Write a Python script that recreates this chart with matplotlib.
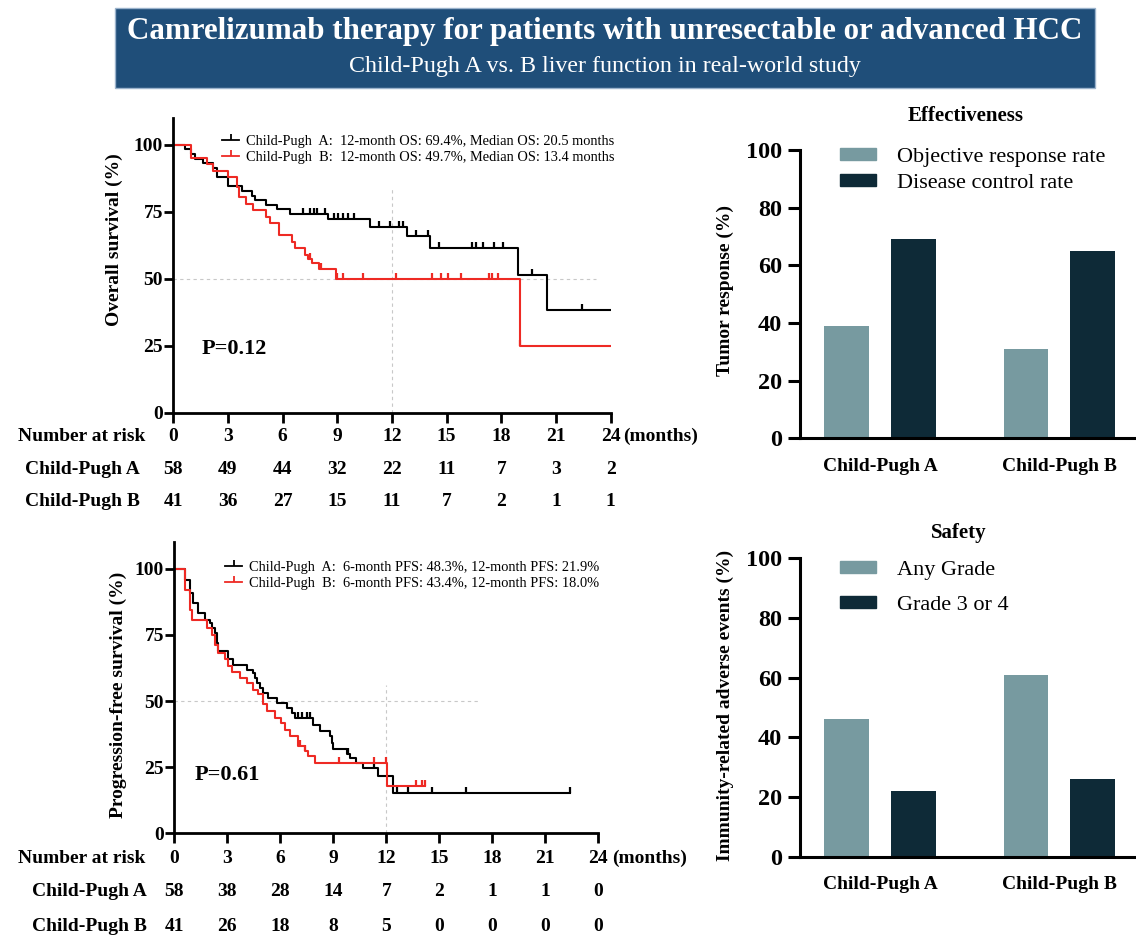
import numpy as np
import matplotlib
matplotlib.use("Agg")
import matplotlib.pyplot as plt
from matplotlib.patches import Rectangle, Patch
from matplotlib.lines import Line2D

plt.rcParams['font.family'] = ['Liberation Serif', 'DejaVu Serif']
plt.rcParams['xtick.direction'] = 'out'
plt.rcParams['ytick.direction'] = 'out'

# ---- overall survival (months, %) ----
os_a_t = [0, 0.64, 0.95, 1.2, 1.65, 2.2, 2.4, 3.0, 3.75, 4.3, 4.5, 5.1, 5.7, 6.4, 8.5, 10.8, 12.8, 14.1, 18.9, 20.5]
os_a_s = [100, 98.3, 96.6, 94.8, 93.1, 91.4, 88.0, 84.5, 82.8, 81.0, 79.3, 77.6, 75.9, 74.1, 72.3, 69.4, 66.0, 61.5, 51.3, 38.5]
os_a_end = 24
os_a_cens = [7.1, 7.5, 7.7, 7.9, 8.3, 8.8, 9.05, 9.3, 9.6, 9.9, 11.3, 11.9, 12.4, 12.6, 13.3, 14.0, 14.6, 16.4, 16.6, 17.0, 17.6, 18.1, 19.7, 22.4]

os_b_t = [0, 0.95, 1.83, 2.2, 3.0, 3.5, 3.6, 4.0, 4.4, 5.1, 5.3, 5.8, 6.5, 6.7, 7.2, 7.4, 7.6, 8.0, 8.9, 19.0]
os_b_s = [100, 95.1, 92.7, 90.2, 87.8, 84.3, 80.5, 78.0, 75.6, 73.2, 70.7, 66.2, 63.8, 61.3, 59.0, 57.5, 56.0, 53.5, 50.0, 25.0]
os_b_end = 24
os_b_cens = [7.5, 8.1, 9.0, 9.3, 10.4, 12.2, 14.2, 14.7, 15.1, 15.8, 17.3, 17.5, 17.8, 19.05]

# ---- progression-free survival (months, %) ----
pfs_a_t = [0, 0.6, 0.89, 1.08, 1.36, 1.74, 2.02, 2.11, 2.3, 2.4, 2.49, 3.06, 3.34, 4.09, 4.47, 4.57, 4.66, 4.85,
           5.04, 5.32, 5.79, 6.36, 6.64, 6.83, 7.87, 8.25, 8.81, 8.91, 9.0, 9.75, 9.94, 10.3, 10.7, 11.55, 12.4]
pfs_a_s = [100, 95.8, 90.8, 87.0, 83.3, 80.8, 79.5, 77.6, 75.7, 72.0, 68.8, 65.7, 63.8, 61.9, 60.6, 58.7, 56.9, 55.0,
           53.0, 51.2, 49.3, 47.4, 45.5, 43.6, 41.1, 38.6, 36.7, 34.2, 31.7, 29.8, 28.6, 26.7, 24.8, 21.6, 15.3]
pfs_a_end = 22.4
pfs_a_cens = [7.0, 7.2, 7.5, 7.7, 9.85, 11.3, 12.6, 13.2, 14.6, 16.5, 22.4]

pfs_b_t = [0, 0.6, 0.89, 0.98, 1.83, 2.11, 2.3, 2.49, 2.87, 3.06, 3.25, 3.72, 4.09, 4.47, 4.75, 5.04, 5.23, 5.7,
           6.05, 6.26, 6.55, 7.02, 7.4, 7.58, 7.96, 12.02]
pfs_b_s = [100, 92.0, 84.5, 80.8, 77.6, 75.0, 71.3, 68.2, 65.7, 63.1, 60.9, 58.7, 56.9, 54.3, 52.5, 48.7, 46.2, 43.6,
           41.8, 39.2, 36.7, 33.0, 31.1, 29.2, 26.7, 17.9]
pfs_b_end = 14.2
pfs_b_cens = [7.1, 7.4, 9.3, 11.3, 12.0, 13.7, 14.0, 14.2]

# numbers at risk
risk_months = [0, 3, 6, 9, 12, 15, 18, 21, 24]
os_risk_a = [58, 49, 44, 32, 22, 11, 7, 3, 2]
os_risk_b = [41, 36, 27, 15, 11, 7, 2, 1, 1]
pfs_risk_a = [58, 38, 28, 14, 7, 2, 1, 1, 0]
pfs_risk_b = [41, 26, 18, 8, 5, 0, 0, 0, 0]

os_labels = ["Child-Pugh  A:  12-month OS: 69.4%, Median OS: 20.5 months",
             "Child-Pugh  B:  12-month OS: 49.7%, Median OS: 13.4 months"]
pfs_labels = ["Child-Pugh  A:  6-month PFS: 48.3%, 12-month PFS: 21.9%",
              "Child-Pugh  B:  6-month PFS: 43.4%, 12-month PFS: 18.0%"]

# bar data
groups = ["Child-Pugh A", "Child-Pugh B"]
orr = [39, 31]
dcr = [69, 65]
irae_any = [46, 61]
irae_g34 = [22, 26]

light = '#779aa0'
dark = '#0e2a37'
red = '#ee2a24'

fig = plt.figure(figsize=(11.36, 9.42), dpi=100)

# banner
fig.patches.append(Rectangle((115 / 1136, 1 - 88.3 / 942), 980 / 1136, 80 / 942, transform=fig.transFigure,
                             facecolor='#1f4e79', edgecolor='#9bb3cc', lw=1))
fig.text(605 / 1136, 1 - 31.7 / 942, "Camrelizumab therapy for patients with unresectable or advanced HCC",
         ha='center', va='center', color='white', fontsize=22.3, fontweight='bold')
fig.text(605 / 1136, 1 - 66.7 / 942, "Child-Pugh A vs. B liver function in real-world study",
         ha='center', va='center', color='white', fontsize=17.3)


def step_y(times, surv, x):
    idx = np.searchsorted(times, x, side='right') - 1
    return np.array(surv)[idx]


def km(ax, t, s, end, cens, color):
    ax.step(t + [end], s + [s[-1]], where='post', color=color, lw=1.5)
    ax.plot(cens, step_y(t, s, cens), ls='none', marker=2, ms=4.5, mew=1.6, color=color)


def km_axes(ax, ylabel, lab_xy, ptext, pxy, hline_end, vline_top):
    ax.set_xlim(0, 24)
    ax.set_ylim(0, 110)
    ax.set_xticks(risk_months)
    ax.set_yticks([0, 25, 50, 75, 100])
    ax.tick_params(axis='x', length=7, width=2, labelbottom=False)
    ax.tick_params(axis='y', length=6.5, width=2, pad=1, labelsize=14)
    for lb in ax.get_yticklabels():
        lb.set_fontweight('bold')
    for sp in ['top', 'right']:
        ax.spines[sp].set_visible(False)
    for sp in ['left', 'bottom']:
        ax.spines[sp].set_linewidth(2)
    ax.set_ylabel(ylabel, fontsize=14, fontweight='bold', va='center')
    ax.yaxis.set_label_coords(*lab_xy)
    ax.plot([0, hline_end], [50, 50], ls=(0, (3, 3)), color='#c8c8c8', lw=0.8, zorder=0)
    ax.plot([12, 12], [0, vline_top], ls=(0, (3, 3)), color='#c8c8c8', lw=0.8, zorder=0)
    ax.text(pxy[0], pxy[1], ptext, fontsize=16, fontweight='bold', va='center')


def risk_table(ax, ys, label_x, months_x, ra, rb):
    tr = ax.get_xaxis_transform()
    kw = dict(transform=tr, fontsize=14, fontweight='bold', va='center', clip_on=False)
    ax.text(label_x[0], ys[0], "Number at risk", ha='right', **kw)
    ax.text(label_x[1], ys[1], "Child-Pugh A", ha='right', **kw)
    ax.text(label_x[1], ys[2], "Child-Pugh B", ha='right', **kw)
    for m, a, b in zip(risk_months, ra, rb):
        ax.text(m, ys[0], str(m), ha='center', **kw)
        ax.text(m, ys[1], str(a), ha='center', **kw)
        ax.text(m, ys[2], str(b), ha='center', **kw)
    ax.text(months_x, ys[0], "(months)", ha='left', **kw)


def km_legend(labels, anchor):
    hs = [Line2D([], [], color='k', lw=1.3, marker=2, ms=4, mew=1.3),
          Line2D([], [], color=red, lw=1.3, marker=2, ms=4, mew=1.3)]
    fig.legend(hs, labels, loc='upper left', bbox_to_anchor=anchor, bbox_transform=fig.transFigure,
               frameon=False, fontsize=10.4, handlelength=1.2, handletextpad=0.45, labelspacing=0.22,
               borderpad=0, borderaxespad=0, numpoints=1)


# ---- OS ----
ax1 = fig.add_axes([173.3 / 1136, 1 - 412.7 / 942, 437.4 / 1136, 294.7 / 942])
km(ax1, os_a_t, os_a_s, os_a_end, os_a_cens, 'black')
km(ax1, os_b_t, os_b_s, os_b_end, os_b_cens, red)
km_axes(ax1, "Overall survival (%)", (-0.135, 0.586), "P=0.12", (1.56, 23.7), 23.2, 84)
risk_table(ax1, [-0.0814, -0.1944, -0.302], [-1.55, -1.83], 24.7, os_risk_a, os_risk_b)
km_legend(os_labels, (222 / 1136, 1 - 134.5 / 942))

# ---- PFS ----
ax2 = fig.add_axes([174.3 / 1136, 1 - 833.3 / 942, 424 / 1136, 291 / 942])
km(ax2, pfs_a_t, pfs_a_s, pfs_a_end, pfs_a_cens, 'black')
km(ax2, pfs_b_t, pfs_b_s, pfs_b_end, pfs_b_cens, red)
km_axes(ax2, "Progression-free survival (%)", (-0.133, 0.475), "P=0.61", (1.17, 21.9), 17.3, 56)
risk_table(ax2, [-0.0859, -0.2007, -0.321], [-1.66, -1.56], 24.77, pfs_risk_a, pfs_risk_b)
km_legend(pfs_labels, (225 / 1136, 1 - 560.5 / 942))


def bar_axes(ax, v1, v2, l1, l2, title, ylabel, title_pad, title_x, lab_y, leg_anchor, leg_space):
    x = np.arange(len(groups))
    w = 0.248
    off = 0.186
    ax.bar(x - off, v1, w, color=light, label=l1)
    ax.bar(x + off, v2, w, color=dark, label=l2)
    ax.set_xlim(-0.446, 1.428)
    ax.set_ylim(0, 100)
    ax.set_xticks(x)
    ax.set_xticklabels(groups, fontsize=14, fontweight='bold')
    ax.set_yticks([0, 20, 40, 60, 80, 100])
    ax.tick_params(axis='x', length=0, pad=14)
    ax.tick_params(axis='y', length=9, width=2.2, pad=4, labelsize=17.5)
    for lb in ax.get_yticklabels():
        lb.set_fontweight('bold')
    for sp in ['top', 'right']:
        ax.spines[sp].set_visible(False)
    for sp in ['left', 'bottom']:
        ax.spines[sp].set_linewidth(2.2)
    ax.set_title(title, fontsize=15, fontweight='bold', pad=title_pad, x=title_x)
    ax.set_ylabel(ylabel, fontsize=14, fontweight='bold', va='center')
    ax.yaxis.set_label_coords(-0.223, lab_y)
    hs = [Patch(color=light), Patch(color=dark)]
    fig.legend(hs, [l1, l2], loc='upper left', bbox_to_anchor=leg_anchor, bbox_transform=fig.transFigure,
               frameon=False, fontsize=16, handlelength=1.6, handleheight=0.45, handletextpad=0.95,
               labelspacing=leg_space, borderpad=0, borderaxespad=0)


ax3 = fig.add_axes([800 / 1136, 1 - 438.3 / 942, 336 / 1136, 288.3 / 942])
bar_axes(ax3, orr, dcr, "Objective response rate", "Disease control rate", "Effectiveness",
         "Tumor response (%)", 21, 0.492, 0.514, (840 / 1136, 1 - 148 / 942), 0.32)

ax4 = fig.add_axes([800 / 1136, 1 - 856.7 / 942, 336 / 1136, 298.4 / 942])
bar_axes(ax4, irae_any, irae_g34, "Any Grade", "Grade 3 or 4", "Safety",
         "Immunity-related adverse events (%)", 14.5, 0.473, 0.508, (840 / 1136, 1 - 560.5 / 942), 0.72)

plt.savefig("out.png", dpi=100)
